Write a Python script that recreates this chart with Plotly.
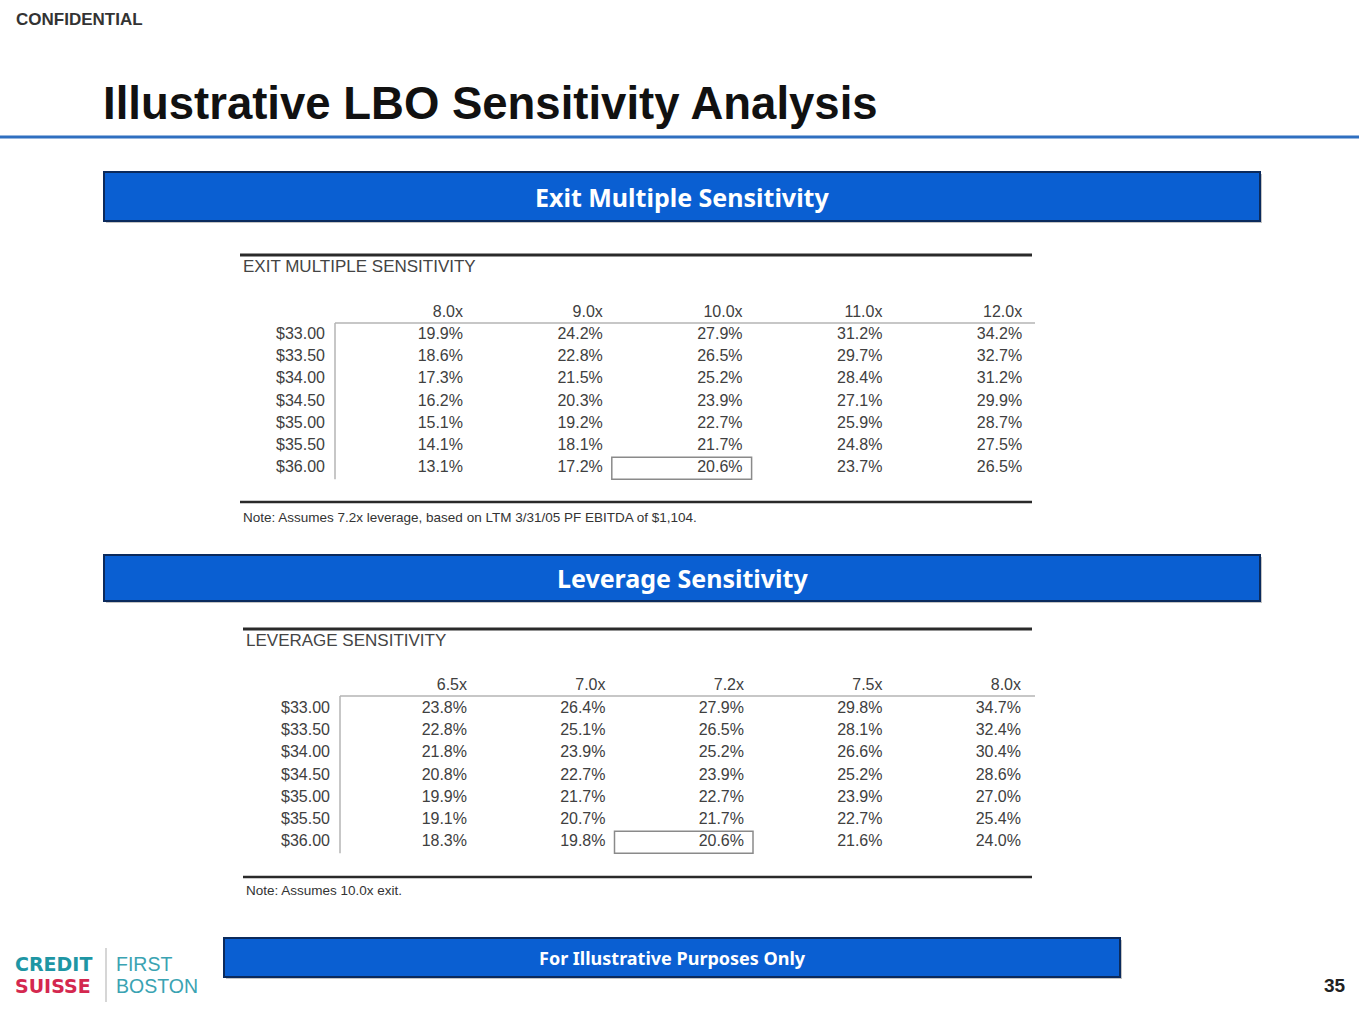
import plotly.graph_objects as go

W, H = 1359, 1020

# ---------------- data ----------------
row_labels = ["$33.00", "$33.50", "$34.00", "$34.50", "$35.00", "$35.50", "$36.00"]

exit_multiples = ["8.0x", "9.0x", "10.0x", "11.0x", "12.0x"]
exit_8_0x = [19.9, 18.6, 17.3, 16.2, 15.1, 14.1, 13.1]
exit_9_0x = [24.2, 22.8, 21.5, 20.3, 19.2, 18.1, 17.2]
exit_10_0x = [27.9, 26.5, 25.2, 23.9, 22.7, 21.7, 20.6]
exit_11_0x = [31.2, 29.7, 28.4, 27.1, 25.9, 24.8, 23.7]
exit_12_0x = [34.2, 32.7, 31.2, 29.9, 28.7, 27.5, 26.5]

leverage_multiples = ["6.5x", "7.0x", "7.2x", "7.5x", "8.0x"]
lev_6_5x = [23.8, 22.8, 21.8, 20.8, 19.9, 19.1, 18.3]
lev_7_0x = [26.4, 25.1, 23.9, 22.7, 21.7, 20.7, 19.8]
lev_7_2x = [27.9, 26.5, 25.2, 23.9, 22.7, 21.7, 20.6]
lev_7_5x = [29.8, 28.1, 26.6, 25.2, 23.9, 22.7, 21.6]
lev_8_0x = [34.7, 32.4, 30.4, 28.6, 27.0, 25.4, 24.0]

base_price = "$36.00"
base_exit = "10.0x"
base_leverage = "7.2x"

exit_note = "Note: Assumes 7.2x leverage, based on LTM 3/31/05 PF EBITDA of $1,104."
lev_note = "Note: Assumes 10.0x exit."

# ---------------- styles ----------------
TXT = "#404040"
BLUE = "#0a5fd2"
NAVY = "#0b2a5c"
FONT = "Liberation Sans, Arial, sans-serif"
BANNER_FONT = "Noto Sans, Open Sans, sans-serif"

fig = go.Figure()
shapes = []
annotations = []


def line(x0, y0, x1, y1, color, width):
    shapes.append(dict(type="line", xref="x", yref="y", x0=x0, y0=y0, x1=x1, y1=y1,
                       line=dict(color=color, width=width)))


def rect(x0, y0, x1, y1, fill, lcolor, lwidth):
    shapes.append(dict(type="rect", xref="x", yref="y", x0=x0, y0=y0, x1=x1, y1=y1,
                       fillcolor=fill, line=dict(color=lcolor, width=lwidth), layer="below"))


def text(x, y, s, size, color=TXT, family=FONT, anchor="left", bold=False):
    annotations.append(dict(x=x, y=y, xref="x", yref="y", text=("<b>%s</b>" % s) if bold else s,
                            showarrow=False, xanchor=anchor, yanchor="middle",
                            font=dict(size=size, color=color, family=family)))


def banner(x0, y0, x1, y1, label, size):
    rect(x0 + 2, y0 + 2, x1 + 2, y1 + 2, "#c4c4c4", "#c4c4c4", 0)
    rect(x0, y0, x1, y1, BLUE, NAVY, 2)
    text((x0 + x1) / 2, (y0 + y1) / 2, label, size, color="white", family=BANNER_FONT,
         anchor="center", bold=True)


def add_table(title, col_labels, col_values, base_col, note, top_y, left, label_right,
              col_x0, col_dx, vline_x, header_y, row_y0, row_dy, bottom_y, note_y):
    n_rows = len(row_labels)
    row_y = [row_y0 + i * row_dy for i in range(n_rows)]
    col_x = [col_x0 + j * col_dx for j in range(len(col_labels))]
    # rules
    line(left, top_y, 1032, top_y, "#2a2a2a", 3)
    line(left, bottom_y, 1032, bottom_y, "#2a2a2a", 2.5)
    line(vline_x, header_y + 10, 1035, header_y + 10, "#b5b5b5", 1.5)
    line(vline_x, header_y + 10, vline_x, row_y[-1] + 11, "#b5b5b5", 1.5)
    text(left + 1, top_y + 11, title, 17, color="#444444")
    text(left + 1, note_y, note, 13.5, color="#333333")
    # highlighted base case cell
    bi = col_labels.index(base_col)
    ri = row_labels.index(base_price)
    rect(col_x[bi] - col_dx + 9, row_y[ri] - 11, col_x[bi] + 9, row_y[ri] + 11,
         "rgba(0,0,0,0)", "#8a8a8a", 1.5)
    tf = dict(size=16, color=TXT, family=FONT)
    # header
    fig.add_trace(go.Scatter(x=col_x, y=[header_y] * len(col_x), mode="text", text=col_labels,
                             textposition="middle left", hoverinfo="skip", showlegend=False,
                             textfont=tf))
    # row labels
    fig.add_trace(go.Scatter(x=[label_right] * n_rows, y=row_y, mode="text", text=row_labels,
                             textposition="middle left", hoverinfo="skip", showlegend=False,
                             textfont=tf))
    # values
    for j, vals in enumerate(col_values):
        fig.add_trace(go.Scatter(x=[col_x[j]] * n_rows, y=row_y, mode="text",
                                 text=["%.1f%%" % v for v in vals],
                                 textposition="middle left", hoverinfo="skip", showlegend=False,
                                 textfont=tf))


# header of slide
text(14, 19, "CONFIDENTIAL", 17, color="#333333", bold=True)
text(101, 103, "Illustrative LBO Sensitivity Analysis", 45.5, color="#111111", bold=True)
line(0, 137, W, 137, "#2f6fc0", 3)

banner(104, 172, 1260, 221, "Exit Multiple Sensitivity", 25)
add_table("EXIT MULTIPLE SENSITIVITY", exit_multiples,
          [exit_8_0x, exit_9_0x, exit_10_0x, exit_11_0x, exit_12_0x], base_exit, exit_note,
          top_y=255, left=240, label_right=325, col_x0=463, col_dx=139.8, vline_x=335,
          header_y=313, row_y0=335, row_dy=22.2, bottom_y=502, note_y=517)

banner(104, 555, 1260, 601, "Leverage Sensitivity", 25)
add_table("LEVERAGE SENSITIVITY", leverage_multiples,
          [lev_6_5x, lev_7_0x, lev_7_2x, lev_7_5x, lev_8_0x], base_leverage, lev_note,
          top_y=629, left=243, label_right=330, col_x0=467, col_dx=138.5, vline_x=340,
          header_y=686, row_y0=709, row_dy=22.2, bottom_y=877, note_y=890)

banner(224, 938, 1120, 977, "For Illustrative Purposes Only", 18)

# logo
text(13, 964, "CREDIT", 19, color="#1e96a4", family="DejaVu Sans, sans-serif", bold=True)
text(13, 986, "SUISSE", 19, color="#d4284f", family="DejaVu Sans, sans-serif", bold=True)
line(106, 948, 106, 1002, "#c8c8c8", 1.5)
text(114, 964, "FIRST", 19.5, color="#3aa3b2")
text(114, 986, "BOSTON", 19.5, color="#3aa3b2")

text(1348, 985, "35", 19, color="#222222", anchor="right", bold=True)

fig.update_layout(
    width=W, height=H, margin=dict(l=0, r=0, t=0, b=0),
    paper_bgcolor="white", plot_bgcolor="white",
    xaxis=dict(range=[0, W], visible=False, fixedrange=True),
    yaxis=dict(range=[H, 0], visible=False, fixedrange=True),
    shapes=shapes, annotations=annotations, showlegend=False,
)

fig.write_html("out.html", config={"displayModeBar": False},
               post_script="document.body.style.margin='0';document.body.style.overflow='hidden';")
